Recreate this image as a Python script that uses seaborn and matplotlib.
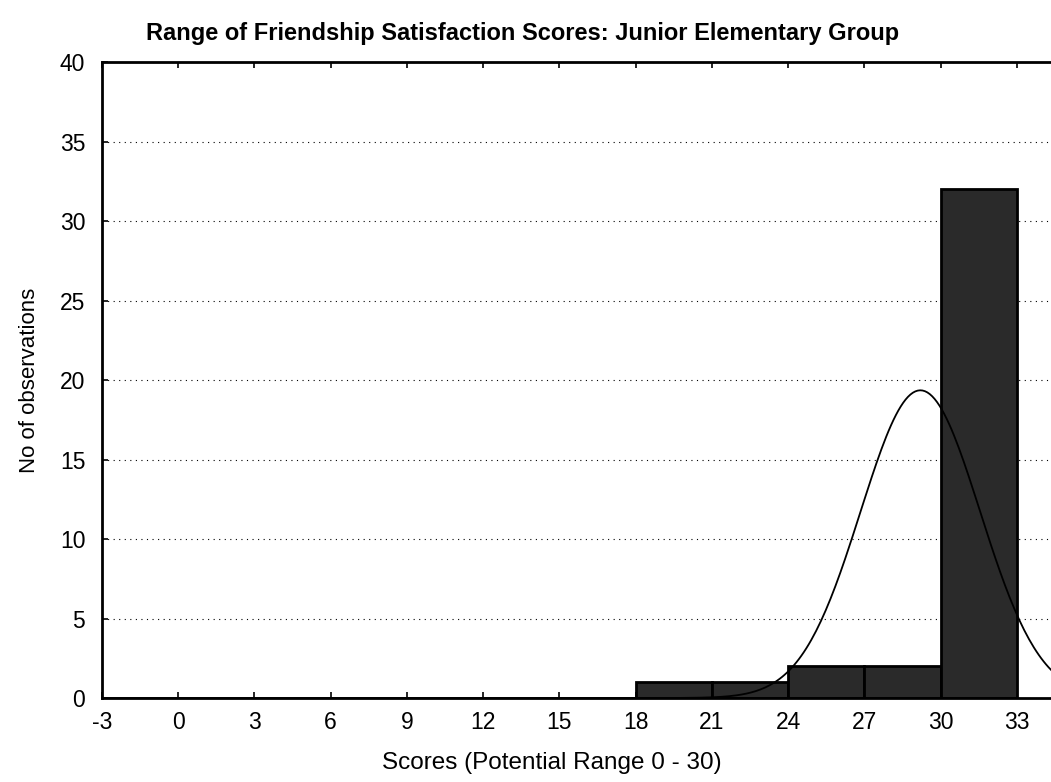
import numpy as np
import pandas as pd
import seaborn as sns
import matplotlib.pyplot as plt

# histogram
bin_edges = [18, 21, 24, 27, 30, 33]
counts = [1, 1, 2, 2, 32]

# fitted normal curve (read from peak position / width)
fit_mean = 29.2
fit_sd = 2.35

x_ticks = [-3, 0, 3, 6, 9, 12, 15, 18, 21, 24, 27, 30, 33]
y_ticks = [0, 5, 10, 15, 20, 25, 30, 35, 40]

sns.set_style("white")
plt.rcParams['font.family'] = ['Liberation Sans', 'DejaVu Sans']
plt.rcParams['axes.unicode_minus'] = False
plt.rcParams['text.color'] = 'black'
plt.rcParams['xtick.color'] = 'black'
plt.rcParams['ytick.color'] = 'black'
plt.rcParams['axes.labelcolor'] = 'black'

fig = plt.figure(figsize=(10.51, 7.82), dpi=100)
ax = fig.add_axes([0.097, 0.1074, 0.903, 0.8133])

mids = [(a + b) / 2 for a, b in zip(bin_edges[:-1], bin_edges[1:])]
df = pd.DataFrame({'score': mids, 'n': counts})
sns.histplot(data=df, x='score', weights='n', bins=bin_edges, ax=ax,
             color='#2a2a2a', alpha=1, edgecolor='black', linewidth=2,
             zorder=2)

total = sum(counts)
width = bin_edges[1] - bin_edges[0]
xs = np.linspace(-3, 35, 400)
ys = total * width / (fit_sd * np.sqrt(2 * np.pi)) * np.exp(-0.5 * ((xs - fit_mean) / fit_sd) ** 2)
sns.lineplot(x=xs, y=ys, ax=ax, color='black', linewidth=1.3, zorder=3)

ax.set_xlim(-3, 34.34)
ax.set_ylim(0, 40)
ax.set_xticks(x_ticks)
ax.set_yticks(y_ticks)
ax.tick_params(labelsize=16.5, length=4, width=1.2, direction='in', top=True, left=True, bottom=True)
ax.tick_params(axis='x', pad=9)
ax.tick_params(axis='y', pad=12)
ax.yaxis.grid(True, linestyle=(0, (1, 4)), color='black', linewidth=0.8)
ax.set_axisbelow(True)
for side in ['left', 'top', 'bottom']:
    ax.spines[side].set_linewidth(2)
    ax.spines[side].set_color('black')
ax.spines['right'].set_visible(False)

ax.set_xlabel('Scores (Potential Range 0 - 30)', fontsize=17.5)
ax.xaxis.set_label_coords(0.474, -0.085)
ax.set_ylabel('No of observations', fontsize=16, labelpad=14)
ax.set_title('Range of Friendship Satisfaction Scores: Junior Elementary Group',
             fontsize=17, fontweight='bold', x=0.443, pad=16)

fig.savefig('out.png', dpi=100)
